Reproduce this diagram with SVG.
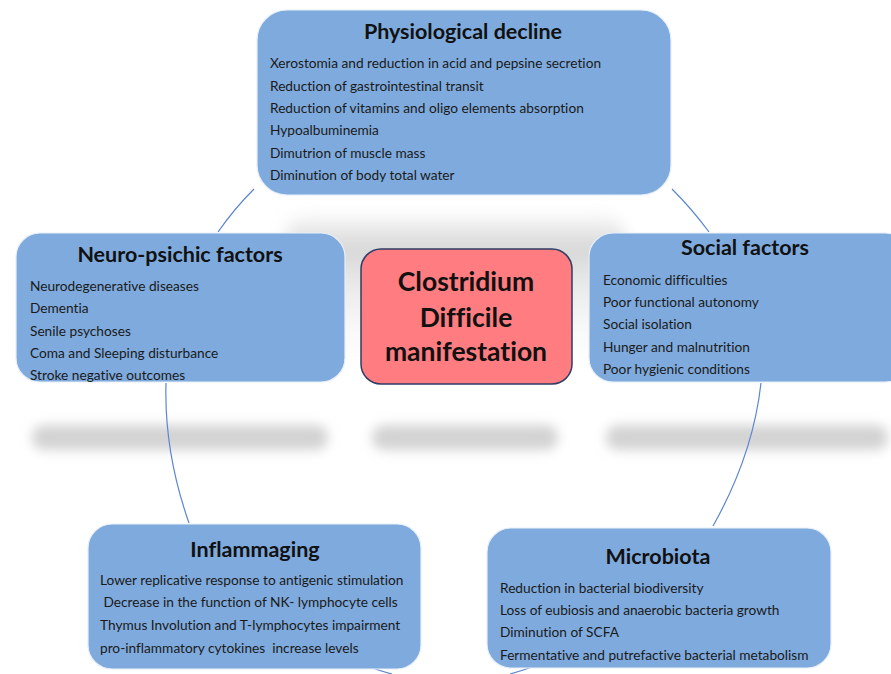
<svg xmlns="http://www.w3.org/2000/svg" width="891" height="674" viewBox="0 0 891 674">
  <defs>
    <filter id="soft" x="-20%" y="-100%" width="140%" height="300%">
      <feGaussianBlur stdDeviation="6"/>
    </filter>
    <filter id="softer" x="-20%" y="-40%" width="140%" height="180%">
      <feGaussianBlur stdDeviation="8"/>
    </filter>
    <linearGradient id="haze" x1="0" y1="0" x2="0" y2="1">
      <stop offset="0" stop-color="#d6d6d6" stop-opacity="0"/>
      <stop offset="0.22" stop-color="#d6d6d6" stop-opacity="1"/>
      <stop offset="1" stop-color="#ffffff" stop-opacity="0"/>
    </linearGradient>
    <style>
      text { font-family: Lato, "Liberation Sans", sans-serif; font-variant-ligatures: none; white-space: pre; }
      .box { fill: #7FAADD; stroke: #E8EFF8; stroke-width: 1.2; }
      .core { fill: #FF7C80; stroke: #2E3C66; stroke-width: 1.5; }
      .title { font-weight: bold; font-size: 21.5px; fill: #111; text-anchor: middle; }
      .item { font-size: 13.7px; fill: #1a1a1a; }
      .coretext { font-weight: bold; font-size: 26.5px; fill: #111; text-anchor: middle; }
      .arc { fill: none; stroke: #5B86CF; stroke-width: 1.2; }
      .band { fill: #d3d3d3; }
    </style>
  </defs>

  <rect width="891" height="674" fill="#ffffff"/>

  <!-- soft backdrop behind the centre box -->
  <rect x="285" y="210" width="340" height="175" rx="30" fill="url(#haze)" filter="url(#softer)"/>

  <!-- blurred reflection bands -->
  <g id="reflections" filter="url(#soft)">
    <rect class="band" x="32" y="425" width="296" height="25" rx="12"/>
    <rect class="band" x="372" y="425" width="186" height="25" rx="12"/>
    <rect class="band" x="606" y="425" width="282" height="25" rx="12"/>
  </g>

  <!-- cycle connectors -->
  <g id="connectors">
    <path class="arc" d="M254,189 Q234,209 218,232"/>
    <path class="arc" d="M672,189 Q692,209 709,232"/>
    <path class="arc" d="M166,383 Q164,452 189,523"/>
    <path class="arc" d="M761,383 Q753,455 713,526"/>
    <path class="arc" d="M370,667 Q380,671 392,674"/>
    <path class="arc" d="M510,674 Q521,671 532,667"/>
  </g>

  <g id="physiological-decline">
    <rect class="box" x="257" y="10" width="414" height="185" rx="30"/>
    <text class="title" x="463" y="39">Physiological decline</text>
    <text class="item" x="270" y="68">Xerostomia and reduction in acid and pepsine secretion</text>
    <text class="item" x="270" y="90.5">Reduction of gastrointestinal transit</text>
    <text class="item" x="270" y="113">Reduction of vitamins and oligo elements absorption</text>
    <text class="item" x="270" y="135">Hypoalbuminemia</text>
    <text class="item" x="270" y="157.5">Dimutrion of muscle mass</text>
    <text class="item" x="270" y="180">Diminution of body total water</text>
  </g>

  <g id="neuro-psichic-factors">
    <rect class="box" x="16" y="233" width="329" height="149" rx="24"/>
    <text class="title" x="180" y="262">Neuro-psichic factors</text>
    <text class="item" x="30" y="290.5">Neurodegenerative diseases</text>
    <text class="item" x="30" y="313">Dementia</text>
    <text class="item" x="30" y="335.5">Senile psychoses</text>
    <text class="item" x="30" y="357.5">Coma and Sleeping disturbance</text>
    <text class="item" x="30" y="380">Stroke negative outcomes</text>
  </g>

  <g id="social-factors">
    <rect class="box" x="589" y="233" width="320" height="149" rx="24"/>
    <text class="title" x="745" y="255">Social factors</text>
    <text class="item" x="603" y="285">Economic difficulties</text>
    <text class="item" x="603" y="307">Poor functional autonomy</text>
    <text class="item" x="603" y="329">Social isolation</text>
    <text class="item" x="603" y="352">Hunger and malnutrition</text>
    <text class="item" x="603" y="374">Poor hygienic conditions</text>
  </g>

  <g id="clostridium-difficile">
    <rect class="core" x="361" y="249" width="211" height="135" rx="20"/>
    <text class="coretext" x="466" y="291">Clostridium</text>
    <text class="coretext" x="466" y="327">Difficile</text>
    <text class="coretext" x="466" y="361">manifestation</text>
  </g>

  <g id="inflammaging">
    <rect class="box" x="88" y="524" width="333" height="145" rx="24"/>
    <text class="title" x="255" y="557">Inflammaging</text>
    <text class="item" x="100" y="584.5">Lower replicative response to antigenic stimulation</text>
    <text class="item" x="100" y="607"> Decrease in the function of NK- lymphocyte cells</text>
    <text class="item" x="100" y="629.5">Thymus Involution and T-lymphocytes impairment</text>
    <text class="item" x="100" y="652.5">pro-inflammatory cytokines  increase levels</text>
  </g>

  <g id="microbiota">
    <rect class="box" x="487" y="528" width="344" height="140" rx="24"/>
    <text class="title" x="658" y="564">Microbiota</text>
    <text class="item" x="500" y="592.5">Reduction in bacterial biodiversity</text>
    <text class="item" x="500" y="614.5">Loss of eubiosis and anaerobic bacteria growth</text>
    <text class="item" x="500" y="636.5">Diminution of SCFA</text>
    <text class="item" x="500" y="659.5">Fermentative and putrefactive bacterial metabolism</text>
  </g>
</svg>
